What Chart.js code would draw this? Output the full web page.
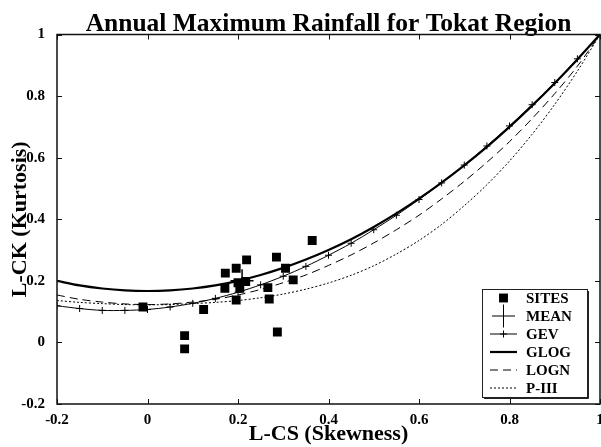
<!DOCTYPE html>
<html>
<head>
<meta charset="utf-8">
<script src="https://cdn.jsdelivr.net/npm/chart.js@4/dist/chart.umd.min.js"></script>
<style>
  html, body { margin: 0; padding: 0; background: #fff; }
  #wrap { width: 601px; height: 447px; }
</style>
</head>
<body>
<div id="wrap"><canvas id="chart" width="601" height="447"></canvas></div>
<script>
// L-skewness grid for the theoretical curves
const TAU3 = [-0.2, -0.15, -0.1, -0.05, 0, 0.05, 0.1, 0.15, 0.2, 0.25, 0.3, 0.35, 0.4,
  0.45, 0.5, 0.55, 0.6, 0.65, 0.7, 0.75, 0.8, 0.85, 0.9, 0.95, 1.0];

const GEV = [0.119, 0.110, 0.104, 0.104, 0.107, 0.115, 0.127, 0.143, 0.163, 0.187, 0.215, 0.247, 0.283,
  0.322, 0.366, 0.413, 0.464, 0.518, 0.576, 0.638, 0.703, 0.772, 0.844, 0.921, 1.0];
const GLOG = [0.200, 0.185, 0.175, 0.169, 0.167, 0.169, 0.175, 0.185, 0.200, 0.219, 0.242, 0.269, 0.300,
  0.335, 0.375, 0.419, 0.467, 0.519, 0.575, 0.635, 0.700, 0.769, 0.842, 0.919, 1.0];
const LOGN = [0.154, 0.140, 0.131, 0.125, 0.123, 0.125, 0.131, 0.140, 0.154, 0.172, 0.194, 0.219, 0.250,
  0.284, 0.323, 0.366, 0.413, 0.466, 0.523, 0.585, 0.652, 0.727, 0.808, 0.897, 1.0];
const PIII = [0.136, 0.130, 0.126, 0.123, 0.122, 0.123, 0.126, 0.130, 0.136, 0.145, 0.157, 0.173, 0.193,
  0.218, 0.249, 0.287, 0.331, 0.383, 0.444, 0.512, 0.589, 0.676, 0.773, 0.881, 1.0];

// sample L-moment ratios of the sites
const SITE_CS = [-0.01, 0.082, 0.082, 0.124, 0.172, 0.171, 0.196, 0.219, 0.200, 0.217,
  0.204, 0.196, 0.266, 0.269, 0.285, 0.287, 0.305, 0.322, 0.364];
const SITE_CK = [0.115, 0.022, -0.021, 0.107, 0.225, 0.176, 0.241, 0.268, 0.194, 0.198,
  0.176, 0.138, 0.178, 0.141, 0.277, 0.034, 0.241, 0.203, 0.331];
const MEAN_CS = [0.209];
const MEAN_CK = [0.200];

const X_TICKS = [-0.2, 0, 0.2, 0.4, 0.6, 0.8, 1];
const Y_TICKS = [-0.2, 0, 0.2, 0.4, 0.6, 0.8, 1];

const SERIF = "'Liberation Serif', 'Times New Roman', serif";
const TICK_LEN = 5;

const pairs = (xs, ys) => xs.map((x, i) => ({ x, y: ys[i] }));
const tickLabel = v => String(Math.round(v * 10) / 10);

// MATLAB-like box with inward ticks
const frame = {
  id: 'frame',
  afterDraw(chart) {
    const { ctx, chartArea: a, scales: { x, y } } = chart;
    ctx.save();
    ctx.strokeStyle = '#111';
    ctx.lineWidth = 1.5;
    ctx.strokeRect(a.left, a.top, a.right - a.left, a.bottom - a.top);
    ctx.lineWidth = 1;
    ctx.beginPath();
    x.ticks.forEach(t => {
      const px = Math.round(x.getPixelForValue(t.value)) + 0.5;
      ctx.moveTo(px, a.bottom); ctx.lineTo(px, a.bottom - TICK_LEN);
      ctx.moveTo(px, a.top); ctx.lineTo(px, a.top + TICK_LEN);
    });
    y.ticks.forEach(t => {
      const py = Math.round(y.getPixelForValue(t.value)) + 0.5;
      ctx.moveTo(a.left, py); ctx.lineTo(a.left + TICK_LEN, py);
      ctx.moveTo(a.right, py); ctx.lineTo(a.right - TICK_LEN, py);
    });
    ctx.stroke();
    ctx.restore();
  }
};

// boxed legend in the lower right corner
const boxLegend = {
  id: 'boxLegend',
  afterDraw(chart, args, opts) {
    const { ctx } = chart;
    const sets = chart.data.datasets;
    const h = opts.row * sets.length + opts.pad * 2;
    ctx.save();
    ctx.fillStyle = '#fff';
    ctx.fillRect(opts.left, opts.top, opts.width, h);
    ctx.strokeStyle = '#222';
    ctx.lineWidth = 1;
    ctx.strokeRect(opts.left + 0.5, opts.top + 0.5, opts.width, h);
    ctx.beginPath();
    ctx.moveTo(opts.left + opts.width + 1.5, opts.top + 2);
    ctx.lineTo(opts.left + opts.width + 1.5, opts.top + h + 1.5);
    ctx.lineTo(opts.left + 2, opts.top + h + 1.5);
    ctx.stroke();

    const x0 = opts.left + 8, x1 = opts.left + 35, xc = (x0 + x1) / 2;
    sets.forEach((ds, i) => {
      const yc = opts.top + opts.pad + opts.row * (i + 0.5);
      ctx.strokeStyle = ds.borderColor;
      ctx.fillStyle = ds.backgroundColor;
      if (ds.showLine) {
        ctx.save();
        ctx.lineWidth = ds.borderWidth;
        ctx.setLineDash(ds.borderDash || []);
        ctx.beginPath();
        ctx.moveTo(x0, yc); ctx.lineTo(x1, yc);
        ctx.stroke();
        ctx.restore();
      }
      if (ds.pointRadius > 0) {
        Chart.helpers.drawPoint(ctx, {
          pointStyle: ds.pointStyle, radius: ds.pointRadius,
          borderWidth: ds.pointBorderWidth, rotation: 0
        }, xc, yc);
      }
      ctx.fillStyle = '#000';
      ctx.font = `bold 15px ${SERIF}`;
      ctx.textAlign = 'left';
      ctx.textBaseline = 'middle';
      ctx.fillText(ds.label, opts.left + 44, yc + 1);
    });
    ctx.restore();
  }
};

const lineSet = (label, ys, extra) => Object.assign({
  label,
  data: pairs(TAU3, ys),
  showLine: true,
  borderColor: '#000',
  backgroundColor: '#000',
  borderWidth: 1,
  pointRadius: 0,
  pointBorderWidth: 1,
  tension: 0.3
}, extra);

new Chart(document.getElementById('chart'), {
  type: 'scatter',
  data: {
    datasets: [
      {
        label: 'SITES', data: pairs(SITE_CS, SITE_CK),
        pointStyle: 'rect', pointRadius: 6.3, pointBorderWidth: 0,
        backgroundColor: '#000', borderColor: '#000', showLine: false
      },
      {
        label: 'MEAN', data: pairs(MEAN_CS, MEAN_CK),
        pointStyle: 'cross', pointRadius: 11.5, pointBorderWidth: 1.5,
        backgroundColor: '#000', borderColor: '#000', showLine: false
      },
      lineSet('GEV', GEV, { pointStyle: 'cross', pointRadius: 3.5 }),
      lineSet('GLOG', GLOG, { borderWidth: 2.2 }),
      lineSet('LOGN', LOGN, { borderDash: [8, 5] }),
      lineSet('P-III', PIII, { borderDash: [2, 2] })
    ]
  },
  options: {
    responsive: false,
    animation: false,
    events: [],
    layout: { autoPadding: false, padding: { top: 0, right: 1, bottom: 0, left: 0 } },
    plugins: {
      legend: { display: false },
      tooltip: { enabled: false },
      title: {
        display: true,
        fullSize: false,
        text: 'Annual Maximum Rainfall for Tokat Region',
        color: '#000',
        font: { family: SERIF, size: 25.5, weight: 'bold', lineHeight: 1 },
        padding: { top: 12, bottom: -3 }
      },
      boxLegend: { left: 482, top: 289, width: 105, row: 18, pad: 0 }
    },
    scales: {
      x: {
        type: 'linear', min: -0.2, max: 1,
        afterBuildTicks: s => { s.ticks = X_TICKS.map(value => ({ value })); },
        afterFit: s => { s.height = 43; s.paddingLeft = 0; s.paddingRight = 0; },
        grid: { display: false },
        border: { display: false },
        ticks: { color: '#000', padding: -1, maxRotation: 0, autoSkip: false, callback: tickLabel,
          font: { family: SERIF, size: 15, weight: 'bold' } },
        title: {
          display: true, text: 'L-CS (Skewness)', color: '#000',
          font: { family: SERIF, size: 22, weight: 'bold', lineHeight: 1 },
          padding: { top: 0, bottom: 2 }
        }
      },
      y: {
        type: 'linear', min: -0.2, max: 1,
        afterBuildTicks: s => { s.ticks = Y_TICKS.map(value => ({ value })); },
        afterFit: s => { s.width = 57; },
        grid: { display: false },
        border: { display: false },
        ticks: { color: '#000', padding: 4, autoSkip: false, callback: tickLabel,
          font: { family: SERIF, size: 15, weight: 'bold' } },
        title: {
          display: true, text: 'L-CK (Kurtosis)', color: '#000',
          font: { family: SERIF, size: 22, weight: 'bold', lineHeight: 1 },
          padding: { top: 9, bottom: 0 }
        }
      }
    }
  },
  plugins: [frame, boxLegend]
});
</script>
</body>
</html>
